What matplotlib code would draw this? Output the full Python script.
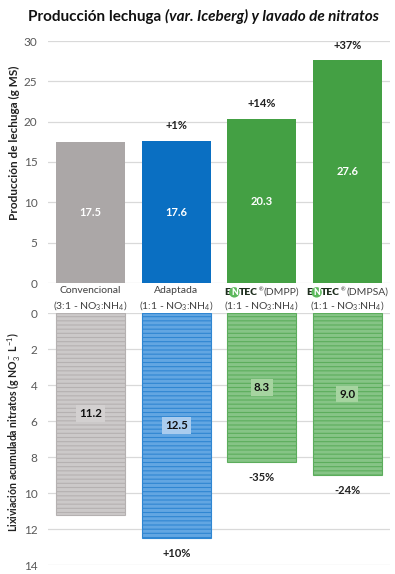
import matplotlib
matplotlib.use("Agg")
import matplotlib.pyplot as plt
from matplotlib.offsetbox import TextArea, HPacker, AnnotationBbox
import numpy as np

FONT = "Lato"
plt.rcParams['font.family'] = [FONT, 'DejaVu Sans']
plt.rcParams['mathtext.fontset'] = 'custom'
plt.rcParams['mathtext.rm'] = FONT
plt.rcParams['mathtext.it'] = FONT + ':italic'
plt.rcParams['mathtext.bf'] = FONT + ':bold'
plt.rcParams['hatch.linewidth'] = 2.2

# ---------------- data ----------------
cat_line1 = ["Convencional", "Adaptada", "(DMPP)", "(DMPSA)"]
cat_line2 = ["(3:1 - NO$_3$:NH$_4$)", "(1:1 - NO$_3$:NH$_4$)",
             "(1:1 - NO$_3$:NH$_4$)", "(1:1 - NO$_3$:NH$_4$)"]
is_entec = [False, False, True, True]
production = [17.5, 17.6, 20.3, 27.6]
prod_change = ["", "+1%", "+14%", "+37%"]
leaching = [11.2, 12.5, 8.3, 9.0]
leach_change = ["", "+10%", "-35%", "-24%"]
prod_ticks = [0, 5, 10, 15, 20, 25, 30]
leach_ticks = [0, 2, 4, 6, 8, 10, 12, 14]

# ---------------- style ----------------
solid_colors = ["#ABA7A7", "#0A6FC2", "#44A044", "#44A044"]
stripe_base = ["#B5B1B1", "#2F86D2", "#5CAD5C", "#5CAD5C"]
stripe_light = ["#CCC9C9", "#62A6E2", "#86C486", "#86C486"]
label_box = ["#D3D0D0", "#A9CCEE", "#A6D4A0", "#A6D4A0"]
grid_c = "#D9D9D9"
tick_c = "#595959"

W, H = 395, 574
fig = plt.figure(figsize=(W / 100, H / 100), dpi=100)

def fx(px):
    return px / W

def fy(py):
    return 1 - py / H

left, right = 48, 390
ax1 = fig.add_axes([fx(left), fy(283), fx(right - left), (283 - 41) / H])
ax2 = fig.add_axes([fx(left), fy(565), fx(right - left), (565 - 313) / H])

x = np.arange(len(production))
bw = 0.81

for ax in (ax1, ax2):
    for s in ax.spines.values():
        s.set_visible(False)
    ax.set_xlim(-0.5, len(x) - 0.5)
    ax.set_xticks([])
    ax.tick_params(axis='y', length=0, pad=7.5, labelsize=8.5, labelcolor=tick_c)
    ax.yaxis.grid(True, color=grid_c, linewidth=0.9)
    ax.set_axisbelow(True)

# top chart
ax1.set_ylim(0, 30)
ax1.set_yticks(prod_ticks)
ax1.bar(x, production, width=bw, color=solid_colors, edgecolor='none')
for i, v in enumerate(production):
    ax1.text(i, v / 2, f"{v:.1f}", ha='center', va='center', color='white',
             fontsize=8, fontweight='bold')
    if prod_change[i]:
        ax1.annotate(prod_change[i], (i, v), xytext=(0, 11), textcoords='offset points',
                     ha='center', va='center', fontsize=8, fontweight='bold', color='#222222')

# bottom chart
ax2.set_ylim(14, 0)
ax2.set_yticks(leach_ticks)
for i, v in enumerate(leaching):
    ax2.bar(i, v, width=bw, color=stripe_base[i], edgecolor=stripe_light[i],
            hatch='----', linewidth=0)
    ax2.bar(i, v, width=bw, fill=False, edgecolor=stripe_base[i], linewidth=0.8)
    ax2.text(i, v / 2, f"{v:.1f}", ha='center', va='center', color='#111111',
             fontsize=8.3, fontweight='bold',
             bbox=dict(boxstyle='square,pad=0.25', fc=label_box[i], ec='none'))
    if leach_change[i]:
        ax2.annotate(leach_change[i], (i, v), xytext=(0, -11), textcoords='offset points',
                     ha='center', va='center', fontsize=8, fontweight='bold', color='#222222')

# category labels
trans = ax1.get_xaxis_transform()
for i in range(len(x)):
    if is_entec[i]:
        parts = [
            TextArea("E", textprops=dict(fontsize=7.5, fontweight='heavy', color='#1E2E1E')),
            TextArea("N", textprops=dict(fontsize=6.3, fontweight='heavy', color='white',
                                         bbox=dict(boxstyle='circle,pad=0.08', fc='#5CB85C', ec='none'))),
            TextArea("TEC", textprops=dict(fontsize=7.5, fontweight='heavy', color='#1E2E1E')),
            TextArea("®", textprops=dict(fontsize=4, color='#333333')),
            TextArea(cat_line1[i], textprops=dict(fontsize=7.5, color='#404040')),
        ]
        box = HPacker(children=parts, align='top', pad=0, sep=0.6)
        ab = AnnotationBbox(box, (i, 0), xycoords=trans, xybox=(0, -3.5),
                            boxcoords='offset points', box_alignment=(0.5, 1),
                            frameon=False, pad=0)
        ax1.add_artist(ab)
    else:
        ax1.annotate(cat_line1[i], (i, 0), xycoords=trans, xytext=(0, -2.5),
                     textcoords='offset points', ha='center', va='top',
                     fontsize=7.5, color='#404040', annotation_clip=False)
    ax1.annotate(cat_line2[i], (i, 0), xycoords=trans, xytext=(0, -11.5),
                 textcoords='offset points', ha='center', va='top',
                 fontsize=7.5, color='#404040', annotation_clip=False)

# axis labels
fig.text(fx(14), fy(143), "Producción de lechuga (g MS)", rotation=90,
         ha='center', va='center', fontsize=8.5, fontweight='bold', color='#222222')
fig.text(fx(14), fy(432), r"Lixiviación acumulada nitratos (g NO$_3^-$ L$^{-1}$)",
         rotation=90, ha='center', va='center', fontsize=7.6, fontweight='bold', color='#222222')

# title
tparts = [
    TextArea("Producción lechuga ", textprops=dict(fontsize=11, fontweight='bold', color='#111111')),
    TextArea("(var. Iceberg) y lavado de nitratos",
             textprops=dict(fontsize=11, fontweight='bold', style='italic', color='#111111')),
]
tbox = HPacker(children=tparts, align='baseline', pad=0, sep=0)
tab = AnnotationBbox(tbox, (fx(203), fy(16)), xycoords='figure fraction',
                     box_alignment=(0.5, 0.5), frameon=False, pad=0)
fig.add_artist(tab)

fig.savefig("out.png", dpi=100)
